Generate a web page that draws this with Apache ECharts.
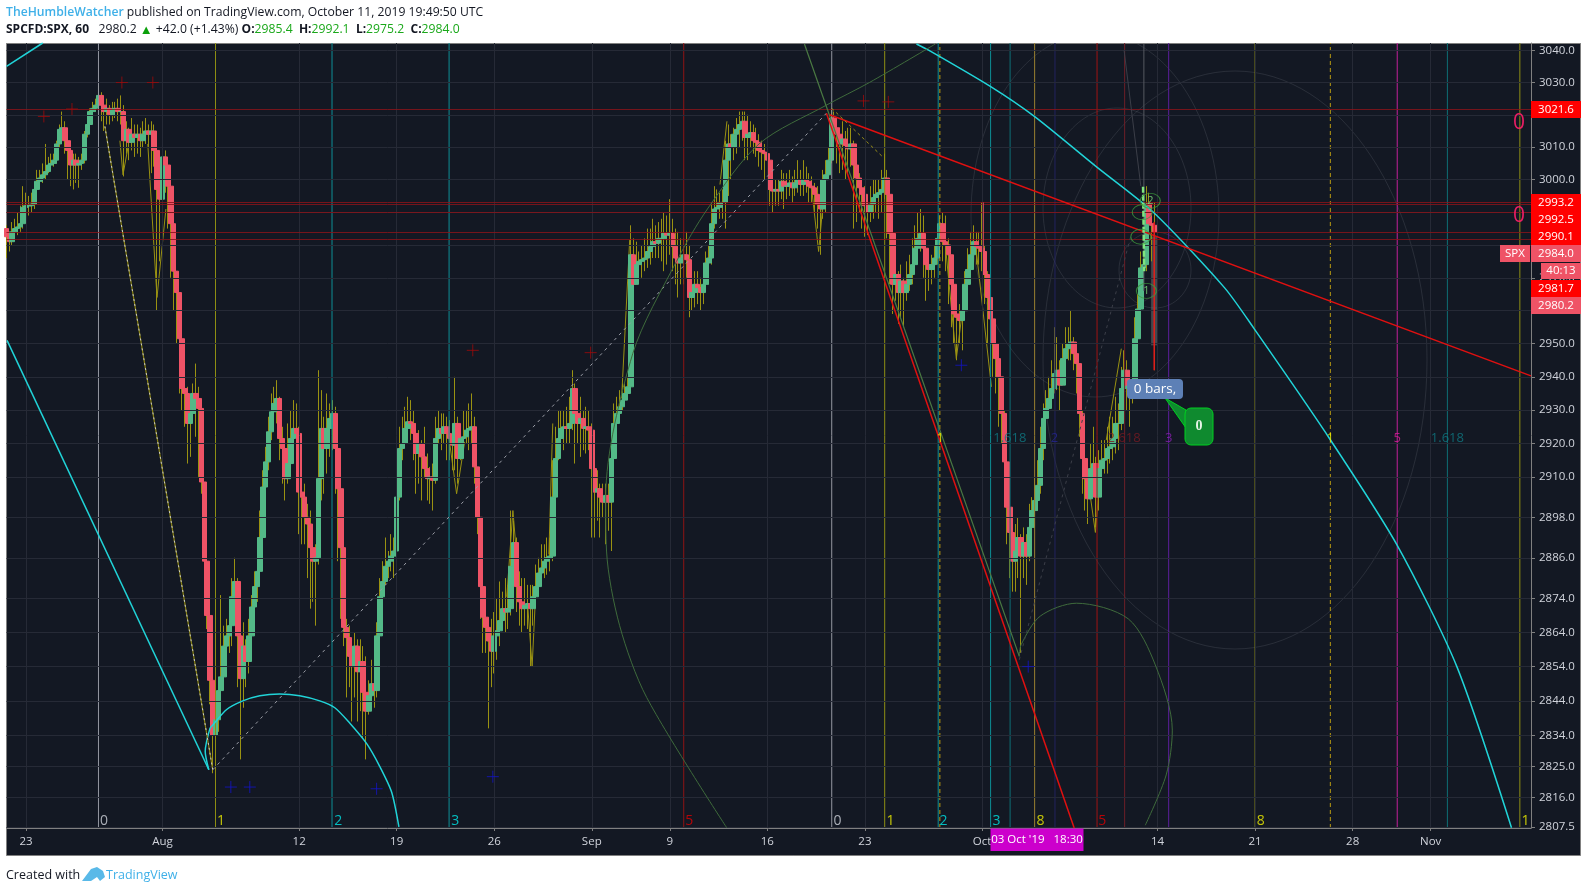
<!DOCTYPE html>
<html><head><meta charset="utf-8">
<style>html,body{margin:0;padding:0;background:#fff}#c{width:1588px;height:892px}</style>
<script src="https://cdn.jsdelivr.net/npm/echarts@6/dist/echarts.min.js"></script>
</head><body><div id="c"></div>
<script>
// ---------- bar-by-bar hourly prices, one row per trading day ----------
const closes = [
2982.5,2981,2984,2985,2985.5,2986.5,2991.5,
2992,2992,2992.5,2997,2999.5,3000.5,3001.5,
3002.5,3004.5,3005,3006,3011,3015.5,3016,
3012,3009,3004.5,3006,3004.5,3005,3006,
3014,3017,3021,3022,3023,3026,3023,
3021,3022,3020,3021.5,3022,3021,3021,
3012,3015.5,3011.5,3014,3013,3014,3012,
3014,3015,3014,3015,3009,2997,2994,
3007,3004.5,2998,2986.5,2972,2965.5,2951.5,
2936.5,2935,2926,2929,2935,2933.5,2930.5,
2908.5,2885,2869,2850,2834,2838.5,2847,
2851,2860,2863,2866,2874.5,2879,2863,
2850.5,2860,2855.5,2863,2871.5,2877.5,2882,
2892,2907,2914.5,2923.5,2929.5,2932,2933.5,
2921.5,2918.5,2909.5,2914,2921.5,2924.5,2923,
2905.5,2904,2898,2896,2889,2885,2886,
2909.5,2924.5,2918.5,2924.5,2927.5,2929,2918.5,
2906.5,2889,2865.5,2862.5,2857,2854,2860,
2852.5,2855.5,2846.5,2841,2845.5,2849,2847,
2863,2874.5,2879,2883.5,2885,2886.5,2888,
2904,2918.5,2920,2924.5,2926.5,2926,2923,
2917,2920,2916,2912.5,2909.5,2910,2909,
2921.5,2924.5,2923,2925,2923,2921.5,2919.5,
2926,2915.5,2921.5,2922,2924,2924.5,2925,
2913,2898,2877.5,2868.5,2865.5,2861.5,2858.5,
2863,2864.5,2867.5,2871,2870,2871,2883.5,
2890.5,2877.5,2873,2871,2872,2872.5,2871,
2874.5,2877.5,2881.5,2883,2885,2886,2886.5,
2904,2915.5,2921.5,2924.5,2925,2924.5,2926,
2936.5,2929,2926,2927.5,2924.5,2925,2924,
2912.5,2905.5,2906.5,2904,2902.5,2904.5,2902.5,
2915.5,2926,2929,2931,2933,2935,2937,
2977,2968,2974,2975,2975.5,2976,2978,
2979.5,2981,2980.5,2982,2982,2983.5,2983,
2983.5,2979.5,2976,2974.5,2976,2977,2975.5,
2964,2965.5,2968,2967,2965.5,2968,2974.5,
2976,2986.5,2991,2991.5,2993,2993,3006,
3011,3010,3014,3015.5,3017,3018,3013,
3014,3014.5,3012,3011.5,3009,3008.5,3008,
3006,2997,2996.5,2997,2996.5,2999.5,2998,
2998,2999,2997.5,2999,3000,2998.5,3000,
2999.5,2998,2997.5,2995.5,2992.5,2991,3000,
3001.5,3006,3019,3016,3014,3011,3012.5,
3010.5,3009.5,3011,3004.5,3000.5,2997.5,2995.5,
2992,2990,2992.5,2994.5,2995.5,2996,2997,
3000.5,2995.5,2983.5,2968,2971,2965.5,2969,
2965.5,2968,2971,2974,2979,2982,2983.5,
2979,2974,2972.5,2974,2976,2982,2986.5,
2981,2980,2977,2968,2959,2958,2957,
2960,2968,2972.5,2977,2981,2979.5,2979,
2978,2971,2964,2957.5,2950,2945.5,2940,
2929,2914.5,2901,2893.5,2885,2888,2892,
2886.5,2890.5,2886.5,2895,2900,2903,2907.5,
2918.5,2927.5,2930.5,2933.5,2936.5,2941,2942,
2937.5,2945.5,2948.5,2950,2950.5,2947,2944,
2929,2915.5,2909.5,2903.5,2912.5,2914,2904,
2912.5,2915,2915.5,2918.5,2919,2921.5,2926,
2926,2936.5,2942,2937.5,2935.5,2939,2951.5,
2960.5,2973,2974,2992.5,2986.5,2986,2984];
const highs = [
2986,2984,2987,2988,2990,2992,2998,
2996,2995,2996,2999,3003,3003,3005,
3011,3007,3008,3008,3012,3017,3021,
3018,3013,3010,3008,3008,3007,3008,
3015,3018,3022,3024,3025,3029,3027,
3024,3025,3023,3024,3024,3025,3026,
3023,3018,3016,3019,3017,3017,3016,
3018,3019,3017,3018,3017,3011,3000,
3014,3009,3005,2992,2985,2972,2965,
2950,2938,2937,2933,2938,2944,2937,
2930,2908,2885,2870,2852,2842,2851,
2875,2866,2868,2872,2880,2886,2880,
2866,2867,2862,2868,2875,2882,2888,
2900,2912,2919,2928,2935,2937,2939,
2934,2925,2921,2926,2930,2933,2932,
2925,2908,2908,2902,2900,2895,2890,
2942,2936,2928,2935,2932,2933,2931,
2921,2907,2890,2868,2866,2860,2864,
2862,2862,2860,2857,2850,2856,2850,
2867,2880,2885,2892,2888,2893,2892,
2910,2925,2928,2931,2934,2933,2930,
2926,2924,2921,2925,2917,2913,2914,
2928,2930,2929,2929,2928,2927,2926,
2940,2928,2925,2930,2930,2932,2935,
2928,2913,2898,2878,2872,2868,2868,
2870,2874,2879,2876,2880,2878,2900,
2897,2892,2882,2880,2880,2878,2878,
2878,2884,2886,2890,2890,2892,2892,
2915,2925,2930,2930,2930,2931,2934,
2942,2938,2932,2934,2930,2931,2930,
2926,2917,2912,2908,2908,2908,2908,
2920,2932,2934,2936,2938,2938,2940,
2986,2982,2981,2978,2980,2982,2985,
2985,2988,2986,2987,2988,2990,2989,
2994,2988,2985,2984,2982,2982,2984,
2980,2975,2972,2972,2970,2974,2978,
2980,2993,2998,2997,2996,2997,3012,
3017,3014,3016,3019,3021,3021,3021,
3020,3018,3017,3016,3014,3012,3011,
3008,3008,3000,3000,3000,3003,3002,
3002,3003,3001,3003,3006,3003,3006,
3004,3002,3001,2999,2998,2995,3003,
3006,3010,3022,3021,3018,3016,3018,
3015,3016,3016,3012,3006,3002,2999,
2998,2993,2998,3000,3000,3000,3003,
3008,3003,2997,2984,2975,2972,2974,
2970,2975,2977,2982,2986,2990,2991,
2989,2981,2976,2977,2980,2985,2989,
2990,2989,2982,2977,2968,2962,2962,
2966,2972,2979,2984,2986,2984,2984,
2993,2980,2972,2964,2956,2950,2945,
2940,2930,2915,2903,2895,2896,2898,
2893,2895,2893,2902,2904,2910,2915,
2925,2932,2936,2940,2945,2955,2952,
2945,2950,2955,2955,2960,2952,2948,
2944,2930,2918,2910,2920,2925,2916,
2918,2921,2921,2925,2928,2928,2934,
2932,2943,2948,2945,2940,2942,2958,
2965,2978,2978,2998,2996,2992,2993];
const lows = [
2976,2978,2980,2982,2983,2984,2985,
2988,2989,2990,2991,2996,2998,2999,
3000,3002,3003,3004,3005,3010,3013,
3008,3000,2998,2997,2999,2997.5,3003,
3005,3013,3016,3020,3021,3022,3018,
3015,3017,3017,3018,3019,3018,3017,
3001,3008,3006,3009,3007,3008,3007,
3010,3011,3010,3002,3004,2960,2975,
2990,2996,2985,2970,2960,2950,2935,
2930,2925,2914,2916,2928,2922,2910,
2905,2882,2865,2843,2823,2833,2835,
2843,2848,2852,2858,2860,2868,2848,
2827,2842,2848,2852,2860,2868,2873,
2880,2888,2905,2912,2921,2925,2926,
2915,2908,2903,2908,2912,2920,2912,
2893,2890,2890,2880,2871,2873,2866,
2884,2903,2905,2911,2916,2918,2905,
2885,2868,2860,2845,2848,2838,2845,
2838,2841,2833,2827,2840,2843,2842,
2845,2860,2872,2878,2880,2882,2880,
2885,2903,2915,2920,2923,2921,2915,
2905,2908,2903,2910,2903,2902,2900,
2908,2920,2918,2920,2915,2915,2912,
2912,2908,2915,2918,2920,2918,2920,
2908,2893,2868,2858,2858,2836,2848,
2852,2856,2860,2866,2864,2865,2869,
2878,2870,2866,2864,2866,2865,2854,
2866,2872,2877,2880,2880,2881,2882,
2885,2900,2915,2920,2918,2920,2920,
2924,2914,2920,2916,2918,2917,2918,
2892,2892,2897,2892,2898,2890,2894,
2888,2912,2924,2928,2930,2932,2934,
2937,2962,2968,2970,2970,2972,2973,
2974,2976,2976,2976,2975,2972,2974,
2977,2972,2968,2964,2968,2968,2970,
2958,2960,2961,2962,2960,2962,2966,
2968,2974,2985,2987,2988,2988,2985,
2995,3000,3006,3008,3010,3012,3006,
3006,3010,3008,3007,3004,3003,3000,
3000,2992,2990,2992,2992,2994,2991,
2994,2995,2993,2995,2996,2995,2995,
2996,2993,2993,2990,2985,2977,2988,
2990,3000,3005,3007,3005,3002,3003,
3000,3002,3004,2985,2987,2990,2985,
2982.5,2983,2987,2988,2990,2988,2990,
2994,2982,2968,2959,2963,2956,2958,
2955,2963,2966,2968,2972,2975,2978,
2970,2963,2966,2968,2970,2974,2980,
2975,2972,2962,2955,2950,2945,2950,
2948,2958,2966,2972,2975,2974,2974,
2972,2962,2950,2945,2940,2935,2925,
2920,2905,2890,2880,2876,2876,2880,
2858,2880,2878,2885,2892,2895,2900,
2905,2915,2925,2928,2932,2935,2936,
2930,2940,2943,2945,2945,2942,2935,
2922,2905,2900,2896,2905,2906,2895,
2900,2908,2911,2911,2914,2915,2917,
2918,2924,2935,2930,2925,2932,2936,
2950,2958,2965,2972,2978,2975,2942];
const firstOpen = 2985;

// ---------- axes ----------
const barCount = 548;
const tickBars = [7,56,105,140,175,210,238,273,308,350,413,448,483,511];
const tickNames = ['23','Aug','12','19','26','Sep','9','16','23','Oct','14','21','28','Nov'];
const priceTicks = [3040,3030,3020,3010,3000,2990,2980,2970,2960,2950,2940,2930,2920,2910,2898,2886,2874,2864,2854,2844,2834,2825,2816,2807.5];
const priceMin = 2807.2, priceMax = 3042.3;

// ---------- drawing-tool readings (bar index, price) ----------
const hLevels = [3021.6,2993.2,2992.5,2990.1,2984,2981.7];
const vBars = [33,75,116.8,158.8,243,296.1,315.1,334.3,353.1,360.1,368.9,376.2,391.3,401.2,417,448,499,517,543];
const vDashedBars = [334.9,475];
const cyanLeft = [[0.2,2951],[72.6,2824]];
const cyanTop = [[0,3035],[13,3042.3]];
const cyanBig = [[326.5,3042],[331,3040],[353,3028.8],[368.8,3019.5],[391,3004],[411.5,2990],[437,2967],[447.7,2954.5],[473.5,2923],[499,2889.7],[520.4,2854],[540,2807.3]];
const cyanSmall = [[72.6,2824],[71.3,2829.3],[73,2836],[74,2837],[79,2841.5],[84.8,2844],[90.9,2845.5],[98,2846],[105.2,2845.5],[112.4,2844],[117.8,2842],[123.2,2837.5],[129.3,2831.5],[133.9,2825],[138.2,2817.5],[140.8,2807.5]];
const dotDown = [[35.3,3016.4],[74,2824]];
const dotUp = [[74,2824],[294.2,3020.5]];
const redFan = [[295.3,3020],[547,2940.3]];
const redDrop = [[294.2,3020.5],[383.1,2807.2]];
const greenDrop = [[286.3,3042],[363.4,2857]];
const greenArcLow = [[363.4,2857],[364.1,2860.5],[370.9,2868.8],[383.9,2872.6],[402.5,2868],[412.2,2854.5],[418.3,2835.5],[416.1,2822.5],[408.6,2808]];
const greenArcBig = [[258.4,2807.3],[229.7,2845],[220,2866],[215.3,2888],[215,2904],[224.7,2947],[240.4,2975],[251.5,2991],[270,3011],[294.2,3023],[309.6,3030],[333.3,3042]];
const dashShort = [[296.1,3022],[314.4,3007]];
const dimDotted = [[363.4,2856],[403.5,2983]];
const dimRay = [[401,3040],[407,2998]];
const grayStem = [[408.1,3042],[408.1,2966]];
const brightStrip = [[407.8,2997.8],[408.2,2972]];
const spikeBars = [[350.5,2993],[350.5,2978]];
const lastSpike = [[411.8,2987],[411.8,2942]];
const swingA = [[50.7,3011],[54,2964],[57.2,2991]];
const swingB = [[40.7,3012],[41.8,3001.5],[43.6,3010]];
const swingC = [[158.3,2924.5],[161.5,2905],[164.4,2920.5]];
const swingD = [[288.8,2998],[291.4,2978],[292.8,2991]];
const swingE = [[337.2,2977],[340.8,2945.5],[343,2960]];
const swingF = [[348,2978],[353.4,2937]];
const swingG = [[387.5,2912.5],[390.7,2893.5],[392.1,2907.5]];
const swingH = [[220.7,2933.5],[223.6,2981.5]];
const swingI = [[256,2998.5],[258.5,3018]];
const swingJ = [[394.6,2921],[400,2948.5]];
const swingK = [[196,2926],[194.6,2887]];
const swingL = [[179.5,2874.5],[181.7,2900],[183.5,2882]];
const swingM = [[187,2872],[188.6,2854],[189.6,2871]];
const redCrosses = [[13.4,3019.5],[23.5,3021.8],[41.4,3030],[52.5,3030],[167.3,2948],[209.6,2947.3],[307.5,3024.3],[316.4,3024]];
const blueCrosses = [[80.5,2819],[87.3,2819],[132.8,2818.5],[174.5,2822],[342.6,2943.5],[366.6,2854]];
const waveMarks = [['1',409,2966],['2',410.4,2993.5],['',407.5,2990],['',407,2982.5]];
const fibBottom = [['0',35,'#d1d4dc'],['1',77,'#f0f000'],['2',119,'#00e5e5'],['3',161,'#00e5e5'],['5',245,'#e00000'],['0',298.2,'#d1d4dc'],['1',317.2,'#f0f000'],['2',336.2,'#00e5e5'],['3',355.2,'#00e5e5'],['8',371,'#f0f000'],['5',393.2,'#e00000'],['8',450,'#f0f000'],['1',545,'#f0f000']];
const fibMiddle = [['1',335,'#f0f000'],['1.618',360,'#0f7a85'],['2',376,'#26268f'],['2.618',401,'#7a1a22'],['3',417,'#8a1fb0'],['1',475,'#f0f000'],['5',499,'#d81b9a'],['1.618',517,'#0f7a85']];
const vColors = ['#9598a1','#8f8f14','#0e8f96','#0e8f96','#8f1414','#9598a1','#8f8f14','#0e8f96','#0e8f96','#0e6f76','#9a7f30','#23235f','#a01414','#6d1f28','#5c1f9c','#8f8f14','#c2209a','#0e6f76','#8f8f14'];

// ---------- derived rows ----------
const opens = closes.map((c,i)=> i===0 ? firstOpen : closes[i-1]);
const categories = Array.from({length:barCount},()=> '');
tickBars.forEach((b,k)=>{categories[b]=tickNames[k];});
const wickData = closes.map((c,i)=>[opens[i],c,lows[i],highs[i]]);
const bodyData = closes.map((c,i)=>[opens[i],c,Math.min(opens[i],c),Math.max(opens[i],c)]);

const FONT='"Open Sans",sans-serif';
const GRID='#262a36', BG='#131823';
const overlay=(data,color,width,extra)=>Object.assign({type:'line',xAxisIndex:1,yAxisIndex:0,data,symbol:'none',silent:true,clip:true,z:5,animation:false,lineStyle:{color,width}},extra||{});
const swings=[swingA,swingB,swingC,swingD,swingE,swingF,swingG,swingH,swingI,swingJ,swingK,swingL,swingM];
const plusPath='path://M-1,0L1,0M0,-1L0,1';
const crossSeries=(d,color)=>({type:'scatter',xAxisIndex:1,yAxisIndex:0,data:d,symbol:plusPath,symbolSize:12,z:6,silent:true,itemStyle:{color:'none',borderColor:color,borderWidth:1}});
const textSeries=(rows,price,size)=>({type:'scatter',xAxisIndex:1,yAxisIndex:0,symbolSize:0,z:7,silent:true,
  data:rows.map(r=>({value:[r[1],price],label:{show:true,formatter:r[0],color:r[2],fontSize:size,fontFamily:FONT,position:'inside'}}))});

const series=[
 {type:'line',xAxisIndex:1,yAxisIndex:0,data:[],z:1,silent:true,animation:false,
  markLine:{silent:true,symbol:'none',animation:false,label:{show:false},precision:4,
   data:priceTicks.map(v=>({yAxis:v,lineStyle:{color:GRID,width:1,type:'solid'}}))
    .concat(tickBars.map(b=>({xAxis:b,lineStyle:{color:GRID,width:1,type:'solid'}})))}},
 ...swings.map(s=>overlay(s,'#9a9212',1,{z:2})),
 {type:'candlestick',xAxisIndex:0,yAxisIndex:0,data:wickData,barWidth:1,z:2,silent:true,animation:false,
  itemStyle:{color:'#9a9212',color0:'#9a9212',borderColor:'#9a9212',borderColor0:'#9a9212',borderWidth:1}},
 {type:'candlestick',xAxisIndex:0,yAxisIndex:0,data:bodyData,barWidth:5,z:3,silent:true,animation:false,
  itemStyle:{color:'#53b987',color0:'#ef5366',borderColor:'#53b987',borderColor0:'#ef5366',borderWidth:1}},
 ...vBars.map((b,k)=>overlay([[b,priceMin],[b,priceMax]],vColors[k],1,{z:4})),
 ...vDashedBars.map(b=>overlay([[b,priceMin],[b,priceMax]],'#b89a12',1,{z:4,lineStyle:{color:'#b89a12',width:1,type:[4,3]}})),
 {type:'line',xAxisIndex:1,yAxisIndex:0,data:[],z:4,silent:true,animation:false,
  markLine:{silent:true,symbol:'none',animation:false,label:{show:false},precision:4,
   data:hLevels.map(v=>({yAxis:v,lineStyle:{color:'rgba(135,20,26,0.85)',width:1,type:'solid'}}))},
  markArea:{silent:true,itemStyle:{color:'rgba(150,150,150,0.38)'},data:[[{coord:[410.7,2982.6]},{coord:[412.9,2949.5]}]]}},
 overlay(cyanLeft,'#21d4d8',1.5), overlay(cyanTop,'#21d4d8',1.5),
 overlay(cyanBig,'#21d4d8',1.5,{smooth:0.25}), overlay(cyanSmall,'#21d4d8',1.5,{smooth:0.25}),
 overlay(dotDown,'#a29a14',1,{lineStyle:{color:'#8a8312',width:1.2}}),
 overlay(dotDown,'#d8d8d8',1,{lineStyle:{color:'#c8c8c8',width:1,type:[2,3]}}),
 overlay(dotUp,'#9a9da6',1,{lineStyle:{color:'#9a9da6',width:1,type:[3,4]}}),
 overlay(greenDrop,'#4b7a43',1.2), overlay(greenArcLow,'#3f6b3c',1,{smooth:0.3}), overlay(greenArcBig,'#3f6b3c',1,{smooth:0.3}),
 overlay(redFan,'#e01010',1.5), overlay(redDrop,'#e01010',1.5),
 overlay(dashShort,'#9a9018',1,{lineStyle:{color:'#9a9018',width:1,type:[3,3]}}),
 overlay(dimDotted,'#3b3e48',1,{lineStyle:{color:'#3b3e48',width:1,type:[3,4]}}),
 overlay(dimRay,'#3b3e48',1), overlay(grayStem,'#555861',1),
 overlay(spikeBars,'#d4505c',1), overlay(lastSpike,'#e01a1a',1.5),
 overlay(brightStrip,'#7fe67f',2,{lineStyle:{color:'#7fe67f',width:2.5,type:[6,2]}}),
 crossSeries(redCrosses,'#a00a0a'), crossSeries(blueCrosses,'#1414c8'),
 {type:'scatter',xAxisIndex:1,yAxisIndex:0,symbol:'circle',symbolSize:[20,15],z:7,silent:true,
  data:waveMarks.map(m=>({value:[m[1],m[2]],label:{show:true,formatter:m[0],color:'#7fe67f',fontSize:11,fontFamily:FONT,position:'inside'}})),
  itemStyle:{color:'none',borderColor:'#3d9a3d',borderWidth:1}},
 textSeries(fibBottom.map(r=>[r[0],r[1],r[2]]),2809.2,14),
 textSeries(fibMiddle.map(r=>[r[0],r[1],r[2]]),2921.6,13)
];

const T=(x,y,text,extra)=>({type:'text',x,y,z:30,silent:true,style:Object.assign({text,fontFamily:FONT,fontSize:12,fill:'#131722',verticalAlign:'middle'},extra||{})});
const box=(x,y,w,h,fill,label)=>[
 {type:'rect',z:20,silent:true,shape:{x,y,width:w,height:h},style:{fill}},
 {type:'text',z:21,silent:true,x:x+w/2,y:y+h/2,style:{text:label,fill:'#fff',fontFamily:FONT,fontSize:11.5,align:'center',verticalAlign:'middle'}}];
const ring=(cx,cy,rx,ry)=>({type:'ellipse',z:-8,silent:true,shape:{cx,cy,rx,ry},style:{fill:'none',stroke:'rgba(130,133,146,0.2)',lineWidth:1}});
const graphic=[
 {type:'rect',z:-10,silent:true,shape:{x:6.5,y:43.5,width:1574,height:812},style:{fill:BG,stroke:'#808080',lineWidth:1}},
 ring(1235,360,192,289),ring(1095,215,124,182),ring(1117,208,74,100),ring(1155,270,36,38),
 {type:'rect',z:-5,silent:true,shape:{x:0,y:0,width:1588,height:43},style:{fill:'#fff'}},
 {type:'rect',z:-4,silent:true,shape:{x:6.5,y:43,width:1574,height:1},style:{fill:'#808080'}},
 {type:'text',z:30,silent:true,x:6,y:13,style:{text:'{a|TheHumbleWatcher}{b| published on TradingView.com, October 11, 2019 19:49:50 UTC}',verticalAlign:'middle',
   rich:{a:{fontFamily:FONT,fontSize:12.2,fontWeight:600,fill:'#3fb0e8'},b:{fontFamily:FONT,fontSize:12.2,fill:'#131722'}}}},
 {type:'text',z:30,silent:true,x:6,y:30,style:{text:'{k|SPCFD:SPX, 60}{b|   2980.2 }{t|▲}{b| +42.0 (+1.43%) }{k|O:}{g|2985.4  }{k|H:}{g|2992.1  }{k|L:}{g|2975.2  }{k|C:}{g|2984.0}',verticalAlign:'middle',
   rich:{k:{fontFamily:FONT,fontSize:12,fontWeight:700,fill:'#131722'},b:{fontFamily:FONT,fontSize:12.2,fill:'#131722'},g:{fontFamily:FONT,fontSize:12.2,fill:'#1aa81a'},t:{fontFamily:FONT,fontSize:13,fill:'#0aa00a'}}}},
 T(6,875,'Created with',{fontSize:12.5}),
 {type:'polygon',z:30,silent:true,shape:{points:[[82,881],[91,869],[97,867],[103,871],[105,877],[100,881],[97,877],[91,881]]},style:{fill:'#59b9e8'}},
 T(106,875,'TradingView',{fill:'#3fb0e8',fontSize:12.5}),
 ...box(1531,101,50,17,'#ff0000','3021.6'),
 ...box(1531,194,50,17,'#ff0000','2993.2'),
 ...box(1531,211,50,17,'#ff0000','2992.5'),
 ...box(1531,228,50,17,'#ff0000','2990.1'),
 ...box(1500,245,30,17,'#ef5366','SPX'),
 ...box(1531,245,50,17,'#ef5366','2984.0'),
 ...box(1541,263,40,16,'#ef5366','40:13'),
 ...box(1531,280,50,17,'#ff0000','2981.7'),
 ...box(1531,297,50,17,'#ef5366','2980.2'),
 T(1519,122.7,'0',{fill:'#e91e63',fontSize:21,align:'center'}),
 T(1519,216,'0',{fill:'#e91e63',fontSize:21,align:'center'}),
 {type:'polygon',z:20,silent:true,shape:{points:[[1165,398],[1186,410],[1186,428]]},style:{fill:'#0f8a2f',stroke:'#00d020',lineWidth:1}},
 {type:'rect',z:20,silent:true,shape:{x:1185,y:408,width:28,height:37,r:6},style:{fill:'#0f8a2f',stroke:'#00d020',lineWidth:1}},
 T(1199,426.5,'0',{fill:'#e8f5e8',fontSize:14,align:'center',fontFamily:'"Liberation Serif",serif',fontWeight:700}),
 {type:'rect',z:20,silent:true,shape:{x:1127,y:379,width:56,height:20,r:4},style:{fill:'#5d80b6'}},
 T(1155,389.5,'0 bars,',{fill:'#fff',fontSize:13.5,align:'center'}),
 {type:'rect',z:22,silent:true,shape:{x:990.5,y:828.5,width:93,height:22.5},style:{fill:'#cc00cc'}},
 T(1037,839.5,"03 Oct '19   18:30",{fill:'#fff',fontSize:11.5,align:'center'})
];

const chart=echarts.init(document.getElementById('c'),null,{renderer:'canvas'});
chart.setOption({
 animation:false,backgroundColor:'#fff',
 grid:{left:6.5,top:43,right:57,bottom:64,containLabel:false},
 xAxis:[
  {type:'category',data:categories,boundaryGap:false,
   axisLine:{lineStyle:{color:'#808080'},onZero:false},
   axisTick:{show:true,length:3,interval:(i,v)=>v!=='',lineStyle:{color:'#808080'}},
   splitLine:{show:false},
   axisLabel:{interval:(i,v)=>v!=='',color:'#d1d4dc',fontSize:11.5,fontFamily:FONT,margin:8,hideOverlap:false}},
  {type:'value',min:0,max:barCount-1,show:false,splitLine:{show:false}}
 ],
 yAxis:[{type:'log',logBase:10,min:priceMin,max:priceMax,position:'right',
   axisLine:{show:true,onZero:false,lineStyle:{color:'#808080'}},
   axisTick:{show:true,length:4,customValues:priceTicks,lineStyle:{color:'#808080'}},
   splitLine:{show:false},minorSplitLine:{show:false},
   axisLabel:{customValues:priceTicks,color:'#d1d4dc',fontSize:11.5,fontFamily:FONT,margin:8,formatter:v=>Number(v).toFixed(1)}}],
 graphic,series
});
</script></body></html>
